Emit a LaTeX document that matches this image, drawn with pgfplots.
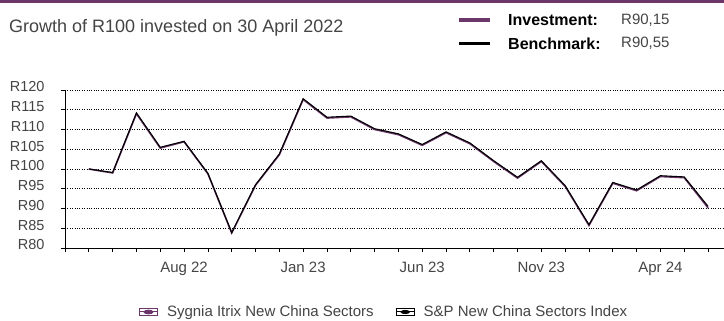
\documentclass[border=0pt]{standalone}
\usepackage{fontspec}
\setmainfont{Liberation Sans}
\usepackage{pgfplots}
\pgfplotsset{compat=1.18}
\definecolor{sygpurple}{RGB}{107,55,107}
\definecolor{txtgray}{RGB}{68,68,68}
\pgfplotstableread{
x inv bench
1 100.0 100.0
2 99.0 99.1
3 114.0 114.2
4 105.3 105.5
5 106.9 107.0
6 98.8 98.9
7 83.8 83.9
8 95.9 96.0
9 103.6 103.8
10 117.6 117.8
11 112.9 113.1
12 113.2 113.4
13 110.0 110.2
14 108.7 108.9
15 106.0 106.2
16 109.2 109.4
17 106.4 106.6
18 101.9 102.1
19 97.7 97.9
20 101.9 102.1
21 95.6 95.8
22 85.7 85.9
23 96.4 96.6
24 94.5 94.7
25 98.1 98.3
26 97.8 98.0
27 90.15 90.55
}\datatable
\begin{document}
\begin{tikzpicture}
\path[use as bounding box] (0bp,0bp) rectangle (724bp,-321bp);
\fill[sygpurple] (0bp,0bp) rectangle (724bp,-3bp);
\node[anchor=west, inner sep=0, text=txtgray, font=\fontsize{18bp}{21bp}\selectfont] at (9bp,-28bp) {Growth of R100 invested on 30 April 2022};
\draw[sygpurple, line width=3.5bp] (459bp,-20bp) -- (490bp,-20bp);
\draw[black, line width=3.5bp] (459bp,-43.5bp) -- (490bp,-43.5bp);
\node[anchor=west, inner sep=0, font=\bfseries\fontsize{16bp}{19bp}\selectfont] at (508bp,-20bp) {Investment:};
\node[anchor=west, inner sep=0, font=\bfseries\fontsize{16bp}{19bp}\selectfont] at (508bp,-43.5bp) {Benchmark:};
\node[anchor=west, inner sep=0, text=txtgray, font=\fontsize{15bp}{18bp}\selectfont] at (621bp,-20bp) {R90,15};
\node[anchor=west, inner sep=0, text=txtgray, font=\fontsize{15bp}{18bp}\selectfont] at (621bp,-43.5bp) {R90,55};
\begin{axis}[
  at={(65bp,-248bp)}, anchor=south west,
  scale only axis, width=659bp, height=158bp,
  xmin=0, xmax=27.67, ymin=80, ymax=120,
  axis lines*=left,
  axis line style={black, line width=0.9bp},
  xtick={0,...,27},
  xticklabels={,,,,,Aug 22,,,,,Jan 23,,,,,Jun 23,,,,,Nov 23,,,,,Apr 24,,},
  ytick={80,85,...,120},
  yticklabels={R80,R85,R90,R95,R100,R105,R110,R115,R120},
  tick align=outside, major tick length=4bp,
  tick style={black, line width=0.8bp},
  ymajorgrids, grid style={black, dotted, line width=1bp},
  xticklabel style={font=\fontsize{15bp}{18bp}\selectfont, text=txtgray, yshift=-7bp},
  yticklabel style={font=\fontsize{14.5bp}{17bp}\selectfont, text=txtgray, xshift=-13bp, yshift=3bp},
  legend columns=2,
  legend cell align=left,
  legend style={at={(axis description cs:0.112,-0.405)}, anchor=west, draw=none, fill=none, inner sep=0pt,
    font=\fontsize{15bp}{18bp}\selectfont, text=txtgray,
    /tikz/every odd column/.append style={column sep=7bp},
    /tikz/every even column/.append style={column sep=20bp}},
  legend image code/.code={
    \draw[#1, solid, line width=0.8bp] (0bp,-3.5bp) rectangle (18bp,3.5bp);
    \draw[#1, solid, line width=1bp] (0bp,0bp) -- (18bp,0bp);
    \fill[#1] (9bp,0bp) ellipse (4bp and 1.5bp);
  },
]
\addplot[sygpurple, line width=1.6bp, mark=none] table[x=x, y=inv] {\datatable};
\addlegendentry{Sygnia Itrix New China Sectors}
\addplot[black, line width=1.1bp, mark=none] table[x=x, y=bench] {\datatable};
\addlegendentry{S\&P New China Sectors Index}
\end{axis}
\end{tikzpicture}
\end{document}
